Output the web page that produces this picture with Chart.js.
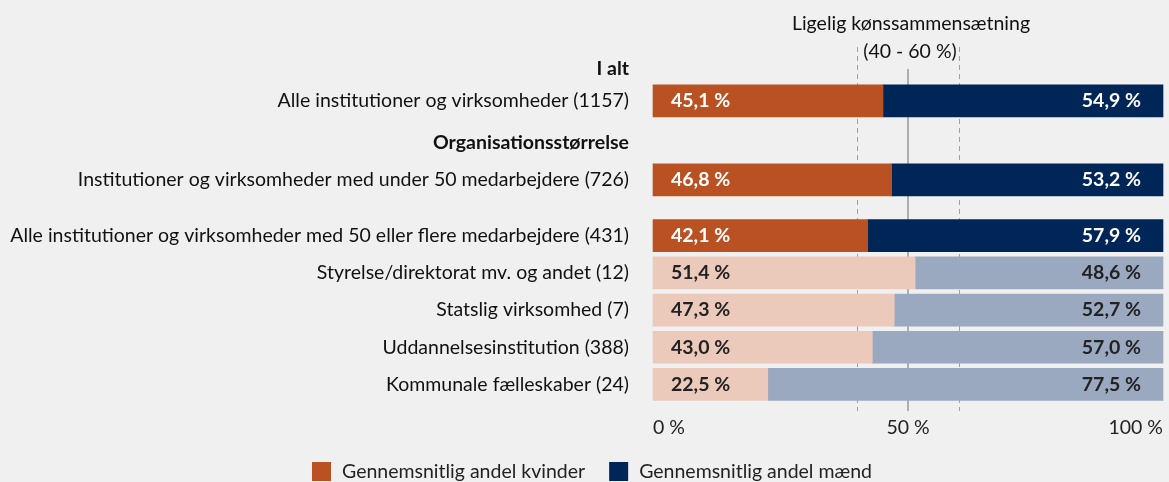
<!DOCTYPE html>
<html lang="da">
<head>
    <meta charset="UTF-8">
    <title>Kønssammensætning</title>
    <script src="https://cdn.jsdelivr.net/npm/chart.js@4"></script>
    <style>
        body { margin: 0; background: #f0f0f0; }
        #wrap { width: 1169px; height: 482px; position: relative; }
    </style>
</head>
<body>
    <div id="wrap"><canvas id="canvas"></canvas></div>
    <script>
        // data
        const rowLabels = [
            'I alt',
            'Alle institutioner og virksomheder (1157)',
            'Organisationsstørrelse',
            'Institutioner og virksomheder med under 50 medarbejdere (726)',
            'Alle institutioner og virksomheder med 50 eller flere medarbejdere (431)',
            'Styrelse/direktorat mv. og andet (12)',
            'Statslig virksomhed (7)',
            'Uddannelsesinstitution (388)',
            'Kommunale fælleskaber (24)'
        ];
        const kvinder = [null, 45.1, null, 46.8, 42.1, 51.4, 47.3, 43.0, 22.5];
        const maend = [null, 54.9, null, 53.2, 57.9, 48.6, 52.7, 57.0, 77.5];
        const headerRows = ['I alt', 'Organisationsstørrelse'];
        const lightRows = [5, 6, 7, 8];
        const seriesNames = ['Gennemsnitlig andel kvinder', 'Gennemsnitlig andel mænd'];
        const xTicks = [0, 50, 100];
        const titleLines = ['Ligelig kønssammensætning', '(40 - 60 %)'];

        // layout: rækkerne ligger i små "slots" (1/8 række) så afstanden kan variere
        const slotCount = 74;
        const rowSlots = [0, 7, 16, 24, 36, 44, 52, 60, 68];

        const FONT = 'Lato';
        const colors = {
            kv: '#ba5122', kvLight: '#ebcabb',
            mx: '#002658', mxLight: '#9aa9c0'
        };

        let categories = new Array(slotCount).fill('');
        let rowOfSlot = new Array(slotCount).fill(-1);
        let kvData = new Array(slotCount).fill(null);
        let mxData = new Array(slotCount).fill(null);
        rowSlots.forEach(function (s, i) {
            categories[s] = rowLabels[i];
            rowOfSlot[s] = i;
            kvData[s] = kvinder[i];
            mxData[s] = maend[i];
        });

        function fmt(v) {
            return v.toFixed(1).replace('.', ',') + ' %';
        }

        // reference lines + title
        const refLines = {
            id: 'refLines',
            beforeDatasetsDraw(chart) {
                const ctx = chart.ctx;
                const x = chart.scales.x;
                const top = chart.chartArea.top;
                const bottom = chart.chartArea.bottom + 1;
                ctx.save();
                ctx.strokeStyle = '#a0a0a0';
                ctx.lineWidth = 1;
                ctx.setLineDash([5, 4]);
                [40, 60].forEach(function (v) {
                    const px = Math.round(x.getPixelForValue(v)) + 0.5;
                    ctx.beginPath();
                    ctx.moveTo(px, top - 19);
                    ctx.lineTo(px, bottom);
                    ctx.stroke();
                });
                ctx.setLineDash([]);
                ctx.lineWidth = 1.5;
                ctx.strokeStyle = '#999';
                const mid = Math.round(x.getPixelForValue(50));
                ctx.beginPath();
                ctx.moveTo(mid, top + 3);
                ctx.lineTo(mid, bottom);
                ctx.stroke();

                ctx.fillStyle = '#111';
                ctx.font = '19.5px ' + FONT;
                ctx.textAlign = 'center';
                ctx.textBaseline = 'middle';
                ctx.fillText(titleLines[0], mid + 3, 24);
                ctx.fillText(titleLines[1], mid + 2, 52);
                ctx.restore();
            }
        };

        // værdier på søjlerne + forklaring
        const barLabels = {
            id: 'barLabels',
            afterDatasetsDraw(chart) {
                const ctx = chart.ctx;
                const x = chart.scales.x;
                ctx.save();
                ctx.font = 'bold 19.5px ' + FONT;
                ctx.textBaseline = 'middle';
                chart.data.datasets.forEach(function (ds, di) {
                    const meta = chart.getDatasetMeta(di);
                    meta.data.forEach(function (el, i) {
                        const v = ds.data[i];
                        if (v === null) return;
                        const light = lightRows.includes(rowOfSlot[i]);
                        ctx.fillStyle = light ? '#222' : '#fff';
                        if (di === 0) {
                            ctx.textAlign = 'left';
                            ctx.fillText(fmt(v), x.getPixelForValue(0) + 18, el.y);
                        } else {
                            ctx.textAlign = 'right';
                            ctx.fillText(fmt(v), x.getPixelForValue(100) - 22, el.y);
                        }
                    });
                });

                // legend
                ctx.font = '19.5px ' + FONT;
                ctx.textAlign = 'left';
                let lx = 312;
                const ly = 472;
                [colors.kv, colors.mx].forEach(function (c, i) {
                    ctx.fillStyle = c;
                    ctx.fillRect(lx, ly - 10, 19, 19);
                    ctx.fillStyle = '#222';
                    ctx.fillText(seriesNames[i], lx + 30, ly);
                    lx += 30 + ctx.measureText(seriesNames[i]).width + 24;
                });
                ctx.restore();
            }
        };

        const bg = function (light, dark) {
            return function (c) {
                return lightRows.includes(rowOfSlot[c.dataIndex]) ? light : dark;
            };
        };

        let config = {
            type: 'bar',
            data: {
                labels: categories,
                datasets: [{
                    label: seriesNames[0],
                    data: kvData,
                    backgroundColor: bg(colors.kvLight, colors.kv),
                    barThickness: 32,
                    clip: false
                }, {
                    label: seriesNames[1],
                    data: mxData,
                    backgroundColor: bg(colors.mxLight, colors.mx),
                    barThickness: 32,
                    clip: false
                }]
            },
            options: {
                indexAxis: 'y',
                responsive: true,
                maintainAspectRatio: false,
                animation: false,
                events: [],
                layout: { padding: { top: 66, right: 3, left: 0, bottom: 0 } },
                plugins: {
                    legend: { display: false },
                    tooltip: { enabled: false }
                },
                scales: {
                    x: {
                        stacked: true,
                        min: 0,
                        max: 100,
                        afterBuildTicks: function (scale) {
                            scale.ticks = xTicks.map(function (v) { return { value: v }; });
                        },
                        afterFit: function (scale) { scale.height = 72; },
                        grid: { display: false, drawTicks: false },
                        border: { display: false },
                        ticks: {
                            align: 'inner',
                            padding: 6,
                            color: '#222',
                            font: { family: FONT, size: 19.5 },
                            callback: function (v) { return v + ' %'; }
                        }
                    },
                    y: {
                        stacked: true,
                        afterFit: function (scale) { scale.width = 653; },
                        grid: { display: false, drawTicks: false },
                        border: { display: false },
                        ticks: {
                            autoSkip: false,
                            padding: 24,
                            color: '#111',
                            font: function (c) {
                                const lab = categories[c.index];
                                return {
                                    family: FONT,
                                    size: 19.5,
                                    weight: headerRows.includes(lab) ? 'bold' : 'normal'
                                };
                            }
                        }
                    }
                }
            },
            plugins: [refLines, barLabels]
        };

        let chart = new Chart(document.getElementById('canvas').getContext('2d'), config);
    </script>
</body>
</html>
